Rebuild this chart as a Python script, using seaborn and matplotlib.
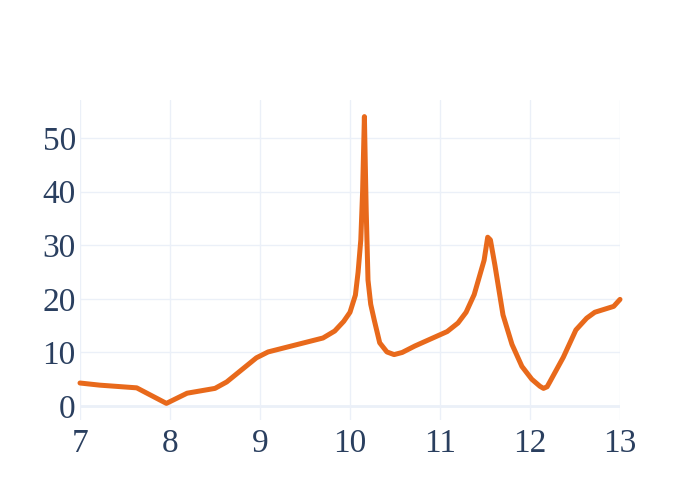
import matplotlib
matplotlib.use('Agg')
import matplotlib.pyplot as plt
import seaborn as sns
import pandas as pd

# Values
x_vals = [7.0, 7.22, 7.63, 7.96, 8.19, 8.5, 8.63, 8.96, 9.09, 9.7, 9.83, 9.93,
          10.0, 10.06, 10.09, 10.12, 10.14, 10.16, 10.17, 10.18, 10.2, 10.23,
          10.27, 10.33, 10.41, 10.49, 10.58, 10.72, 11.08, 11.2, 11.29, 11.38,
          11.49, 11.53, 11.56, 11.61, 11.7, 11.8, 11.91, 12.02, 12.11, 12.15,
          12.19, 12.22, 12.37, 12.51, 12.63, 12.72, 12.93, 13.0]
y_vals = [4.3, 3.9, 3.4, 0.5, 2.4, 3.3, 4.5, 9.0, 10.1, 12.7, 14.0, 15.8,
          17.5, 20.7, 25.0, 31.0, 40.0, 54.0, 45.0, 36.5, 23.5, 19.0,
          16.0, 11.8, 10.1, 9.6, 10.0, 11.2, 13.9, 15.5, 17.5, 20.8,
          27.2, 31.5, 31.0, 26.3, 17.0, 11.5, 7.4, 5.0, 3.7, 3.3,
          3.6, 4.5, 9.1, 14.2, 16.4, 17.5, 18.6, 19.9]
x_ticks = [7, 8, 9, 10, 11, 12, 13]
y_ticks = [0, 10, 20, 30, 40, 50]

df = pd.DataFrame({'x': x_vals, 'y': y_vals})

sns.set_style('white')
plt.rcParams['font.family'] = ['Liberation Serif', 'DejaVu Serif']

fig = plt.figure(figsize=(7, 5), dpi=100)
ax = fig.add_axes([80 / 700, 80 / 500, 540 / 700, 320 / 500])

sns.lineplot(x='x', y='y', data=df, ax=ax, color='#e8691b', linewidth=3.6,
             zorder=3, clip_on=False)

ax.set_xlim(7, 13)
ax.set_ylim(-2.6, 57.1)
ax.set_xticks(x_ticks)
ax.set_yticks(y_ticks)
ax.grid(True, color='#ebf0f8', linewidth=1)
ax.axhline(0, color='#ebf0f8', linewidth=2, zorder=1)
ax.set_xlabel('')
ax.set_ylabel('')
for s in ax.spines.values():
    s.set_visible(False)
ax.tick_params(axis='both', length=0, labelsize=24, labelcolor='#2a3f5f')
ax.tick_params(axis='x', pad=6)
ax.tick_params(axis='y', pad=3)

fig.savefig('out.png', dpi=100, facecolor='white')
